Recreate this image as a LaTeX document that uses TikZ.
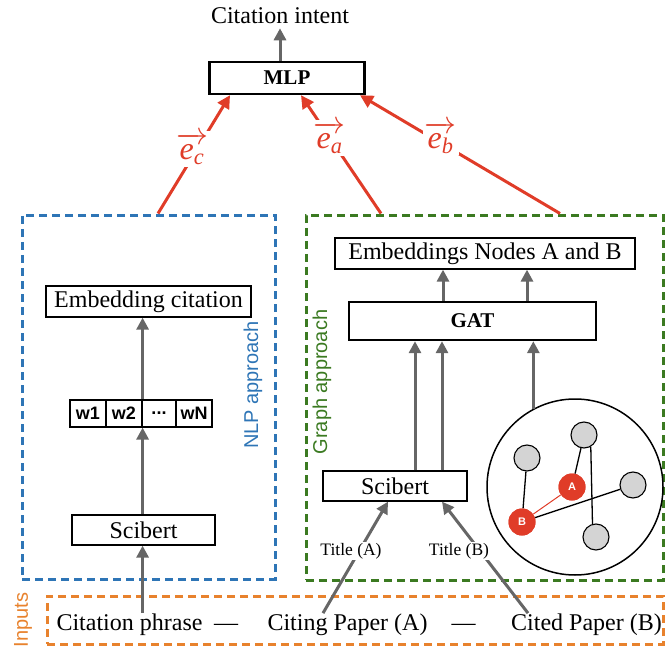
\RequirePackage{fix-cm}
\documentclass[tikz,border=0pt]{standalone}
\usepackage{amsmath}
\usepackage{fontspec}
\setmainfont{Liberation Serif}
\setsansfont{Liberation Sans}
\usetikzlibrary{arrows.meta}
\definecolor{redA}{HTML}{E03C28}
\definecolor{blueB}{HTML}{2E75B6}
\definecolor{greenB}{HTML}{3B7A21}
\definecolor{orangeB}{HTML}{E8822D}
\definecolor{grayA}{HTML}{666666}
\definecolor{nodegray}{HTML}{D4D4D4}
\newcommand{\evec}[1]{\(\overrightarrow{\text{\itshape e}_{\text{\itshape #1}}}\)}
\tikzset{
  txt/.style={inner sep=0pt, font=\fontsize{24}{28}\selectfont},
  box/.style={draw, line width=1.3pt, inner sep=0pt, font=\fontsize{24}{28}\selectfont},
  boldbox/.style={draw, line width=2.4pt, inner sep=0pt, font=\fontsize{21}{24}\selectfont\bfseries},
  wcell/.style={draw, line width=1.2pt, inner sep=0pt, minimum height=27pt, font=\sffamily\bfseries\fontsize{18}{20}\selectfont},
  garr/.style={draw=grayA, line width=3pt, -{Triangle[length=12pt,width=12pt]}},
  rarr/.style={draw=redA, line width=3pt, -{Triangle[length=13pt,width=13pt]}},
  elab/.style={fill=white, inner sep=2pt, text=redA, font=\fontsize{32}{36}\selectfont},
  frame/.style={line width=3pt, dash pattern=on 8pt off 5pt, inner sep=0pt},
  side/.style={rotate=90, inner sep=0pt, font=\sffamily\fontsize{20}{22}\selectfont},
  tlab/.style={fill=white, inner sep=1.5pt, font=\fontsize{17.5}{20}\selectfont},
  gnode/.style={circle, draw, fill=nodegray, line width=1.1pt, minimum size=26pt, inner sep=0pt},
  rnode/.style={circle, fill=redA, minimum size=27pt, inner sep=0pt, text=white, font=\sffamily\bfseries\fontsize{11}{12}\selectfont},
  gedge/.style={line width=1.3pt}
}
\begin{document}
\begin{tikzpicture}[x=1pt, y=-1pt]
\useasboundingbox (0,0) rectangle (667,650);

% frames
\node[frame, draw=blueB, minimum width=253pt, minimum height=364pt] (nlp) at (148.5,397) {};
\node[frame, draw=greenB, minimum width=357pt, minimum height=365pt] (graph) at (484.5,397.5) {};
\node[frame, draw=orangeB, minimum width=616pt, minimum height=48pt] (inputs) at (355,620) {};
\node[side, text=blueB] (nlplab) at (253,385) {NLP approach};
\node[side, text=greenB] (graphlab) at (322,382) {Graph approach};
\node[side, text=orangeB] (inlab) at (23,620) {Inputs};

% top
\node[txt, inner sep=4pt] (intent) at (280,16) {Citation intent};
\node[boldbox, minimum width=155pt, minimum height=32pt] (mlp) at (287,78) {MLP};

% NLP side
\node[box, minimum width=205pt, minimum height=31pt] (embc) at (148.5,301.5) {Embedding citation};
\node[wcell, minimum width=36pt] (w1) at (88,413.5) {w1};
\node[wcell, minimum width=36pt] (w2) at (124,413.5) {w2};
\node[wcell, minimum width=34pt] (w3) at (159,413.5) {...};
\node[wcell, minimum width=36pt] (w4) at (194,413.5) {wN};
\node[box, minimum width=143pt, minimum height=30pt] (sciL) at (143.5,530) {Scibert};

% Graph side
\node[box, minimum width=300pt, minimum height=31pt] (embn) at (485,253.5) {Embeddings Nodes A and B};
\node[boldbox, minimum width=247pt, minimum height=38pt] (gat) at (472.5,321) {GAT};
\node[box, minimum width=144pt, minimum height=30pt] (sciR) at (395,486) {Scibert};
\node[circle, draw, line width=1.5pt, minimum size=176pt, inner sep=0pt] (circ) at (575,487) {};
\node[gnode] (n1) at (527,458) {};
\node[gnode] (n2) at (584,435) {};
\node[gnode] (n3) at (633,485) {};
\node[gnode] (n4) at (596,537) {};
\draw[gedge] (n2.-60) -- (n4.105);
\node[rnode] (A) at (572,487) {A};
\node[rnode] (B) at (522,522) {B};
\draw[gedge] (n1) -- (B);
\draw[gedge] (n2) -- (A);
\draw[gedge] (B) -- (n3);
\draw[redA, line width=1pt] (A) -- (B);
\node[rnode] at (A) {A};
\node[rnode] at (B) {B};

% inputs
\node[txt, anchor=base] (cp) at (129.5,630) {Citation phrase};
\node[txt, anchor=base] (d1) at (226,630) {—};
\node[txt, anchor=base] (citA) at (347.5,630) {Citing Paper (A)};
\node[txt, anchor=base] (d2) at (463.5,630) {—};
\node[txt, anchor=base] (citB) at (586.5,630) {Cited Paper (B)};

% gray arrows
\draw[garr] (mlp.north -| intent.south) -- (intent.south);
\draw[garr] (cp.north -| w2.south east) -- (sciL.south -| w2.south east);
\draw[garr] (sciL.north -| w2.south east) -- (w2.south east);
\draw[garr] (w2.north east) -- (w2.north east |- embc.south);
\draw[garr] ([xshift=-29.5pt]gat.north) -- ([xshift=-29.5pt]gat.north |- embn.south);
\draw[garr] ([xshift=54.5pt]gat.north) -- ([xshift=54.5pt]gat.north |- embn.south);
\draw[garr] ([xshift=20pt]sciR.north) -- ([xshift=20pt]sciR.north |- gat.south);
\draw[garr] ([xshift=47pt]sciR.north) -- ([xshift=47pt]sciR.north |- gat.south);
\draw[garr] (circ.118.5) -- (circ.118.5 |- gat.south);
\draw[garr] ([xshift=-24.5pt]citA.north) -- ([xshift=-7pt]sciR.south);
\draw[garr] ([xshift=-58.5pt]citB.north) -- ([xshift=47pt]sciR.south);
\node[tlab] (tA) at (351,551) {Title (A)};
\node[tlab] (tB) at (459,551) {Title (B)};

% red arrows
\draw[rarr] ([xshift=9.5pt]nlp.north) -- ([xshift=-57pt]mlp.south);
\draw[rarr] ([xshift=-103.5pt]graph.north) -- ([xshift=14pt]mlp.south);
\draw[rarr] ([xshift=75.5pt]graph.north) -- ([xshift=73pt]mlp.south);
\node[elab] (ec) at (192,149) {\evec{c}};
\node[elab] (ea) at (329.5,138) {\evec{a}};
\node[elab] (eb) at (440.5,137.5) {\evec{b}};
\end{tikzpicture}
\end{document}
